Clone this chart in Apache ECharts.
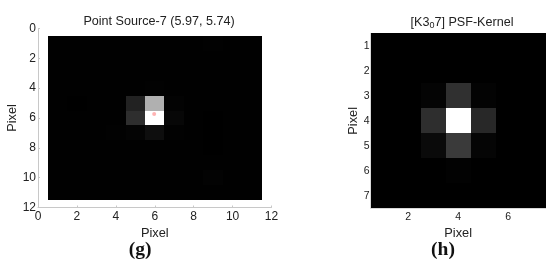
<!DOCTYPE html>
<html>
<head>
<meta charset="utf-8">
<style>
html, body { margin: 0; padding: 0; background: #fff; }
#chart { width: 550px; height: 266px; }
</style>
<script src="https://cdn.jsdelivr.net/npm/echarts@6/dist/echarts.min.js"></script>
</head>
<body>
<div id="chart"></div>
<script>
// gray levels, rows top to bottom
var pointSourceCells = [
    [1, 1, 1, 1, 1, 1, 1, 1, 2, 1, 1],
    [1, 1, 1, 1, 1, 1, 1, 1, 1, 1, 1],
    [1, 1, 1, 1, 1, 1, 1, 1, 1, 1, 1],
    [1, 1, 1, 1, 1, 2, 1, 1, 1, 1, 1],
    [1, 0, 1, 1, 34, 176, 3, 1, 1, 1, 1],
    [1, 1, 1, 1, 46, 255, 7, 1, 0, 1, 1],
    [1, 1, 1, 2, 4, 14, 2, 1, 0, 1, 1],
    [1, 1, 1, 1, 1, 1, 1, 1, 0, 1, 1],
    [1, 1, 1, 1, 1, 1, 1, 1, 1, 1, 1],
    [1, 1, 1, 1, 1, 1, 1, 1, 3, 1, 1],
    [1, 1, 1, 1, 1, 1, 1, 1, 1, 1, 1]
];
var kernelCells = [
    [0, 0, 0, 0, 0, 0, 0],
    [0, 0, 0, 0, 0, 0, 0],
    [0, 0, 4, 48, 3, 0, 0],
    [0, 0, 46, 255, 40, 0, 0],
    [0, 0, 10, 58, 5, 0, 0],
    [0, 0, 0, 2, 0, 0, 0],
    [0, 0, 0, 0, 0, 0, 0]
];
var sourceMark = [[5.97, 5.74]];
var kernelTicksX = [2, 4, 6];
var kernelTicksY = [1, 2, 3, 4, 5, 6, 7];
var titleG = 'Point Source-7 (5.97, 5.74)';
var axisName = 'Pixel';

var font = '"Liberation Sans", Arial, sans-serif';
var textColor = '#222';

function toCells(rows) {
    var out = [];
    rows.forEach(function (row, r) {
        row.forEach(function (v, c) {
            out.push([c + 1, r + 1, v]);
        });
    });
    return out;
}

function renderCell(params, api) {
    var p0 = api.coord([api.value(0) - 0.5, api.value(1) - 0.5]);
    var p1 = api.coord([api.value(0) + 0.5, api.value(1) + 0.5]);
    var g = api.value(2);
    var x = Math.round(p0[0]), y = Math.round(p0[1]);
    return {
        type: 'rect',
        shape: { x: x, y: y, width: Math.round(p1[0]) - x, height: Math.round(p1[1]) - y },
        style: { fill: 'rgb(' + g + ',' + g + ',' + g + ')' }
    };
}

var chart = echarts.init(document.getElementById('chart'), null, { renderer: 'canvas' });

chart.setOption({
    backgroundColor: '#fff',
    animation: false,
    textStyle: { fontFamily: font },
    title: [
        {
            text: titleG, left: 154, top: 10, textAlign: 'center',
            textStyle: { fontSize: 12.6, fontWeight: 'normal', color: textColor, fontFamily: font }
        },
        {
            text: '[K3{sub|0}7] PSF-Kernel', left: 457, top: 10, textAlign: 'center',
            textStyle: {
                fontSize: 12.6, fontWeight: 'normal', color: textColor, fontFamily: font,
                rich: { sub: { fontSize: 9, padding: [6, 0, 0, 0], color: textColor, fontFamily: font } }
            }
        }
    ],
    grid: [
        { left: 38, top: 28.5, width: 233.5, height: 179 },
        { left: 370.7, top: 33.3, width: 175, height: 175 }
    ],
    xAxis: [
        {
            gridIndex: 0, type: 'value', min: 0, max: 12, interval: 2, position: 'bottom',
            name: axisName, nameLocation: 'middle', nameGap: 15,
            nameTextStyle: { fontSize: 12.8, color: textColor },
            axisLine: { onZero: false, lineStyle: { color: '#c8c8c8', width: 1 } },
            axisTick: { inside: true, length: 2, lineStyle: { color: '#c8c8c8' } },
            axisLabel: { fontSize: 12, color: textColor, margin: 3, hideOverlap: false },
            splitLine: { show: false }
        },
        {
            gridIndex: 1, type: 'value', min: 0.5, max: 7.5, position: 'bottom',
            name: axisName, nameLocation: 'middle', nameGap: 14,
            nameTextStyle: { fontSize: 12.8, color: textColor },
            axisLine: { onZero: false, lineStyle: { color: '#d8d8d8', width: 1 } },
            axisTick: { show: false },
            axisLabel: { fontSize: 10.5, color: textColor, margin: 3, customValues: kernelTicksX },
            splitLine: { show: false }
        }
    ],
    yAxis: [
        {
            gridIndex: 0, type: 'value', min: 0, max: 12, interval: 2, inverse: true,
            name: axisName, nameLocation: 'middle', nameGap: 15,
            nameTextStyle: { fontSize: 12.8, color: textColor },
            axisLine: { onZero: false, lineStyle: { color: '#c8c8c8', width: 1 } },
            axisTick: { inside: true, length: 2, lineStyle: { color: '#c8c8c8' } },
            axisLabel: { fontSize: 12, color: textColor, margin: 2, hideOverlap: false },
            splitLine: { show: false }
        },
        {
            gridIndex: 1, type: 'value', min: 0.5, max: 7.5, inverse: true,
            name: axisName, nameLocation: 'middle', nameGap: 10,
            nameTextStyle: { fontSize: 12.8, color: textColor },
            axisLine: { onZero: false, lineStyle: { color: '#d8d8d8', width: 1 } },
            axisTick: { show: false },
            axisLabel: { fontSize: 10.5, color: textColor, margin: 1, customValues: kernelTicksY },
            splitLine: { show: false }
        }
    ],
    series: [
        {
            type: 'custom', xAxisIndex: 0, yAxisIndex: 0, silent: true,
            renderItem: renderCell, encode: { x: 0, y: 1 }, data: toCells(pointSourceCells)
        },
        {
            type: 'scatter', xAxisIndex: 0, yAxisIndex: 0, silent: true, z: 5,
            symbol: 'circle', symbolSize: 4, itemStyle: { color: '#ffa0a0' }, data: sourceMark
        },
        {
            type: 'custom', xAxisIndex: 1, yAxisIndex: 1, silent: true,
            renderItem: renderCell, encode: { x: 0, y: 1 }, data: toCells(kernelCells)
        }
    ],
    graphic: [
        {
            type: 'text', x: 140, y: 250,
            style: { text: '(g)', align: 'center', verticalAlign: 'middle', fill: '#111', font: 'bold 19.5px "Liberation Serif", serif' }
        },
        {
            type: 'text', x: 443, y: 250,
            style: { text: '(h)', align: 'center', verticalAlign: 'middle', fill: '#111', font: 'bold 19.5px "Liberation Serif", serif' }
        }
    ]
});
</script>
</body>
</html>
